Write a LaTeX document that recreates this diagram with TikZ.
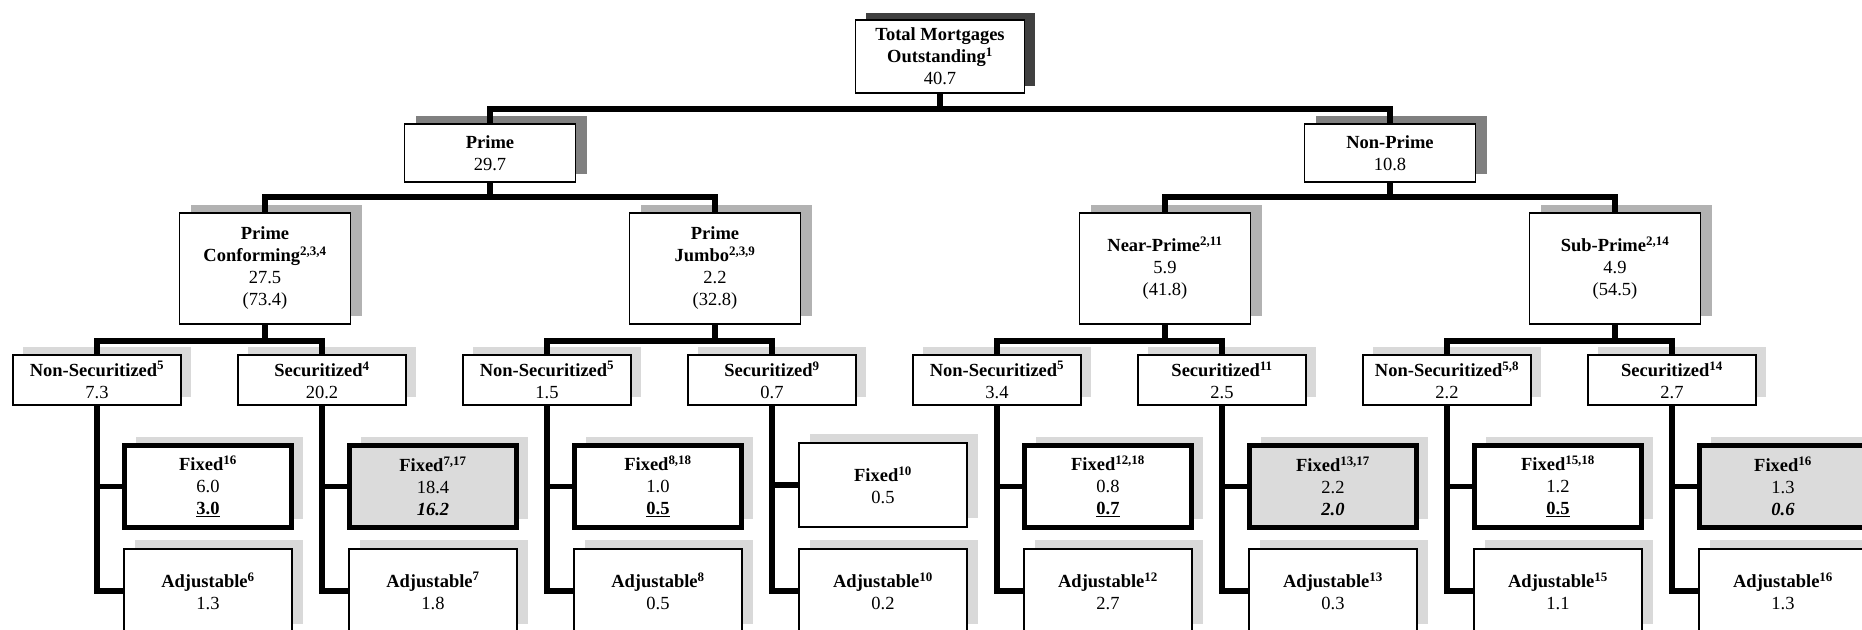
\documentclass[tikz,border=0pt]{standalone}
\usepackage{fontspec}
\setmainfont{Liberation Serif}
\usetikzlibrary{shadows}

\definecolor{shadowdark}{gray}{0.25}
\definecolor{shadowmid}{gray}{0.5}
\definecolor{shadowlight}{gray}{0.7}
\definecolor{shadowpale}{gray}{0.85}
\definecolor{securgray}{gray}{0.86}

\tikzstyle{chartbox}=[draw, fill=white, line width=1.8pt, align=center,
                      inner sep=0pt, font=\fontsize{18.5}{22}\selectfont]
\tikzstyle{topbox}=[chartbox, minimum width=169pt, minimum height=73pt,
                    general shadow={fill=shadowdark, shadow xshift=10pt, shadow yshift=7.5pt}]
\tikzstyle{mainbox}=[chartbox, minimum width=171pt, minimum height=58pt,
                     general shadow={fill=shadowmid, shadow xshift=11pt, shadow yshift=8pt}]
\tikzstyle{gradebox}=[chartbox, minimum width=171pt, minimum height=111pt,
                      general shadow={fill=shadowlight, shadow xshift=11pt, shadow yshift=8pt}]
\tikzstyle{splitbox}=[chartbox, minimum width=168pt, minimum height=50pt,
                      general shadow={fill=shadowpale, shadow xshift=10pt, shadow yshift=8pt}]
\tikzstyle{leafbox}=[chartbox, minimum width=168pt, minimum height=84pt,
                     general shadow={fill=shadowpale, shadow xshift=11pt, shadow yshift=9pt}]
\tikzstyle{heldbox}=[leafbox, line width=5pt, minimum width=167pt, minimum height=82pt]
\tikzstyle{soldbox}=[heldbox, fill=securgray]
\tikzstyle{branch}=[line width=5.5pt]

\begin{document}
\begin{tikzpicture}[x=1pt,y=-1pt]
    % one unit is one pixel of the chart, y runs downwards
    \useasboundingbox (0,0) rectangle (1862,629);
    \clip (0,0) rectangle (1862,629);
    \fill[white] (0,0) rectangle (1862,629);

    % heights of the three horizontal bars
    \coordinate (bar1) at (0,109);
    \coordinate (bar2) at (0,197);
    \coordinate (bar3) at (0,341);

    % top and the prime / non-prime split
    \node[topbox] (total) at (940,56.5)
        {\textbf{Total Mortgages}\\\textbf{Outstanding\textsuperscript{1}}\\40.7};
    \node[mainbox] (prime)    at (490,153)  {\textbf{Prime}\\29.7};
    \node[mainbox] (nonprime) at (1390,153) {\textbf{Non-Prime}\\10.8};

    % credit grades
    \node[gradebox] (conf)  at (265,268.5)
        {\textbf{Prime}\\\textbf{Conforming\textsuperscript{2,3,4}}\\27.5\\(73.4)};
    \node[gradebox] (jumbo) at (715,268.5)
        {\textbf{Prime}\\\textbf{Jumbo\textsuperscript{2,3,9}}\\2.2\\(32.8)};
    \node[gradebox] (near)  at (1165,268.5)
        {\textbf{Near-Prime\textsuperscript{2,11}}\\5.9\\(41.8)};
    \node[gradebox] (sub)   at (1615,268.5)
        {\textbf{Sub-Prime\textsuperscript{2,14}}\\4.9\\(54.5)};

    % securitized or not
    \node[splitbox] (split1) at (97,380)   {\textbf{Non-Securitized\textsuperscript{5}}\\7.3};
    \node[splitbox] (split2) at (322,380)  {\textbf{Securitized\textsuperscript{4}}\\20.2};
    \node[splitbox] (split3) at (547,380)  {\textbf{Non-Securitized\textsuperscript{5}}\\1.5};
    \node[splitbox] (split4) at (772,380)  {\textbf{Securitized\textsuperscript{9}}\\0.7};
    \node[splitbox] (split5) at (997,380)  {\textbf{Non-Securitized\textsuperscript{5}}\\3.4};
    \node[splitbox] (split6) at (1222,380) {\textbf{Securitized\textsuperscript{11}}\\2.5};
    \node[splitbox] (split7) at (1447,380) {\textbf{Non-Securitized\textsuperscript{5,8}}\\2.2};
    \node[splitbox] (split8) at (1672,380) {\textbf{Securitized\textsuperscript{14}}\\2.7};

    % fixed rate
    \node[heldbox] (fixed1) at (208,486.5)  {\textbf{Fixed\textsuperscript{16}}\\6.0\\\underline{\textbf{3.0}}};
    \node[soldbox] (fixed2) at (433,486.5)  {\textbf{Fixed\textsuperscript{7,17}}\\18.4\\\textbf{\textit{16.2}}};
    \node[heldbox] (fixed3) at (658,486.5)  {\textbf{Fixed\textsuperscript{8,18}}\\1.0\\\underline{\textbf{0.5}}};
    \node[leafbox] (fixed4) at (883,485)    {\textbf{Fixed\textsuperscript{10}}\\0.5};
    \node[heldbox] (fixed5) at (1108,486.5) {\textbf{Fixed\textsuperscript{12,18}}\\0.8\\\underline{\textbf{0.7}}};
    \node[soldbox] (fixed6) at (1333,486.5) {\textbf{Fixed\textsuperscript{13,17}}\\2.2\\\textbf{\textit{2.0}}};
    \node[heldbox] (fixed7) at (1558,486.5) {\textbf{Fixed\textsuperscript{15,18}}\\1.2\\\underline{\textbf{0.5}}};
    \node[soldbox] (fixed8) at (1783,486.5) {\textbf{Fixed\textsuperscript{16}}\\1.3\\\textbf{\textit{0.6}}};

    % adjustable rate
    \node[leafbox] (adj1) at (208,591)  {\textbf{Adjustable\textsuperscript{6}}\\1.3};
    \node[leafbox] (adj2) at (433,591)  {\textbf{Adjustable\textsuperscript{7}}\\1.8};
    \node[leafbox] (adj3) at (658,591)  {\textbf{Adjustable\textsuperscript{8}}\\0.5};
    \node[leafbox] (adj4) at (883,591)  {\textbf{Adjustable\textsuperscript{10}}\\0.2};
    \node[leafbox] (adj5) at (1108,591) {\textbf{Adjustable\textsuperscript{12}}\\2.7};
    \node[leafbox] (adj6) at (1333,591) {\textbf{Adjustable\textsuperscript{13}}\\0.3};
    \node[leafbox] (adj7) at (1558,591) {\textbf{Adjustable\textsuperscript{15}}\\1.1};
    \node[leafbox] (adj8) at (1783,591) {\textbf{Adjustable\textsuperscript{16}}\\1.3};

    % connectors, drawn last so they lie over the shadows
    \draw[branch] (total.south) -- (total.south |- bar1);
    \draw[branch] (prime.north) -- (prime.north |- bar1) -| (nonprime.north);
    \foreach \up/\left/\right in {prime/conf/jumbo, nonprime/near/sub}
    {
        \draw[branch] (\up.south) -- (\up.south |- bar2);
        \draw[branch] (\left.north) -- (\left.north |- bar2) -| (\right.north);
    }
    \foreach \up/\left/\right in {conf/1/2, jumbo/3/4, near/5/6, sub/7/8}
    {
        \draw[branch] (\up.south) -- (\up.south |- bar3);
        \draw[branch] (split\left.north) -- (split\left.north |- bar3) -| (split\right.north);
    }
    \foreach \i in {1,...,8}
    {
        \draw[branch] (split\i.south) |- (fixed\i.west);
        \draw[branch] (split\i.south) |- (adj\i.west);
    }
\end{tikzpicture}
\end{document}
